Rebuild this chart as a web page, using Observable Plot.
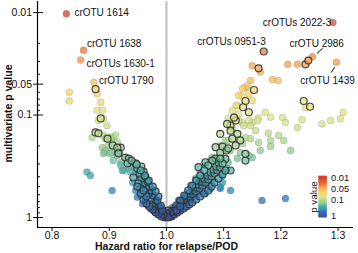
<!DOCTYPE html>
<html>
<head>
<meta charset="utf-8">
<script src="https://cdn.jsdelivr.net/npm/d3@7"></script>
<script src="https://cdn.jsdelivr.net/npm/@observablehq/plot@0.6"></script>
<style>
  html, body { margin: 0; padding: 0; background: #fff; }
  #wrap { position: relative; width: 358px; height: 253px; }
  #main svg, #cbar svg { display: block; }
  #cbar { position: absolute; left: 307px; top: 174px; }
</style>
</head>
<body>
<div id="wrap"><div id="main"></div><div id="cbar"></div></div>
<script>
// ---- data: [hazard ratio, multivariate p value] ----
const plainPoints = [
  [0.825,0.0103],[0.855,0.0233],[0.850,0.029],[0.873,0.048],
  [1.291,0.0125],[1.212,0.032],[1.229,0.032],[1.255,0.027],[1.297,0.0305],
  [1.150,0.033],[1.164,0.038],[1.147,0.046],[1.185,0.045],[1.195,0.046],
  [1.138,0.054],[1.144,0.062],[1.131,0.065],[1.150,0.072],[1.126,0.098],
  [1.132,0.118],[1.150,0.118],[1.161,0.107],[1.173,0.094],[1.141,0.052],[1.124,0.081],[1.144,0.113],
  [1.243,0.085],[1.237,0.111],[1.309,0.094],[1.304,0.109],[1.287,0.113],[1.272,0.122],[1.203,0.106],
  [1.208,0.118],[1.182,0.105],[1.159,0.113],[1.229,0.132],[1.196,0.158],[1.178,0.151],[1.205,0.177],
  [1.182,0.177],[1.182,0.203],[1.217,0.222],[1.164,0.222],[1.150,0.26],[1.129,0.232],[1.133,0.19],
  [1.108,0.29],[1.138,0.166],[1.144,0.248],[1.124,0.266],[1.112,0.222],[1.086,0.29],[1.091,0.333],
  [1.080,0.258],[1.103,0.177],
  [1.112,0.545],[1.094,0.521],[1.098,0.456],[1.167,0.683],[1.208,0.653],
  [1.059,0.566],[1.077,0.525],[1.094,0.506],[1.042,0.657],[1.024,0.764],[1.012,0.855],[1.035,0.746],
  [1.068,0.583],[1.051,0.624],
  [1.068,0.311],[1.077,0.278],[1.059,0.364],[1.051,0.417],[1.042,0.488],[1.086,0.348],[1.098,0.389],
  [1.105,0.333],[1.080,0.436],[1.068,0.488],[1.059,0.436],[1.033,0.61],[1.021,0.683],[1.010,0.799],
  [1.094,0.198],[1.108,0.177],[1.115,0.135],[1.126,0.113],[1.135,0.127],[1.147,0.127],[1.156,0.142],
  [1.147,0.17],[1.161,0.185],[1.126,0.0645],[1.122,0.0807],[1.115,0.0904],[1.108,0.108],[1.133,0.0551],
  [0.830,0.060],[0.830,0.073],[0.879,0.062],[0.885,0.075],[0.879,0.090],[0.888,0.090],[0.890,0.108],
  [0.881,0.113],[0.896,0.127],[0.890,0.158],[0.905,0.166],[0.888,0.208],[0.893,0.232],[0.870,0.166],
  [0.899,0.198],[0.893,0.222],[0.905,0.232],[0.907,0.278],[0.920,0.29],[0.914,0.248],[0.902,0.237],
  [0.890,0.237],[0.920,0.311],[0.925,0.348],[0.937,0.36],[0.941,0.456],[0.934,0.325],[0.946,0.325],
  [0.923,0.348],[0.941,0.29],[0.907,0.166],[0.911,0.157],[0.914,0.184],[0.893,0.17],[0.902,0.165],
  [0.861,0.36],[0.867,0.39],[0.905,0.545],
  [0.949,0.633],[0.958,0.735],[0.967,0.764],[0.972,0.82],[0.978,0.855],[0.963,0.683],[0.955,0.61],
  [0.946,0.545],[0.984,0.894],[0.990,0.935],
  [0.955,0.417],[0.963,0.488],[0.946,0.364],[0.972,0.57],[0.937,0.311],[0.981,0.683],[0.986,0.799]
];
const ringedPoints = [
  [0.876,0.056],[1.170,0.024],[1.243,0.032],[1.248,0.0294],[1.161,0.035],
  [1.240,0.073],[1.251,0.083],[1.138,0.073],[1.134,0.084],[1.144,0.094],[1.121,0.113],[1.112,0.127],[1.153,0.057],
  [1.118,0.106],[1.106,0.122],[1.124,0.153],[1.112,0.142],[1.094,0.153],[1.115,0.170],[1.086,0.206],
  [1.094,0.232],[1.103,0.268],[1.138,0.278],[1.138,0.239],[1.112,0.348],[1.129,0.177],
  [1.056,0.323],[1.068,0.289],
  [1.005,0.935],[1.010,0.874],[1.016,0.817],[1.021,0.764],[1.026,0.781],[1.024,0.714],[1.031,0.730],
  [1.030,0.667],[1.037,0.683],[1.035,0.624],[1.042,0.638],[1.040,0.583],[1.047,0.596],[1.045,0.545],
  [1.052,0.557],[1.051,0.510],[1.058,0.521],[1.056,0.477],[1.063,0.488],[1.061,0.446],[1.068,0.456],
  [1.066,0.417],[1.073,0.426],[1.072,0.389],[1.079,0.398],[1.077,0.364],[1.084,0.372],[1.082,0.340],
  [1.089,0.348],[1.087,0.318],[1.094,0.325],[1.091,0.291],[1.098,0.297],[1.086,0.266],[1.094,0.266],
  [1.098,0.203],[1.105,0.222],[1.121,0.198],[1.108,0.212],
  [1.080,0.278],[1.073,0.311],[1.066,0.348],[1.059,0.389],[1.052,0.436],[1.045,0.488],[1.038,0.545],
  [1.031,0.610],[1.024,0.683],[1.017,0.764],[1.010,0.855],[1.003,0.935],[1.007,0.978],[1.014,0.894],[1.021,0.836],
  [1.009,0.978],[1.014,0.935],[1.019,0.894],[1.024,0.855],[1.030,0.817],[1.035,0.781],[1.040,0.746],
  [1.045,0.714],[1.052,0.667],[1.059,0.624],[1.066,0.583],[1.073,0.545],[1.079,0.499],[1.084,0.456],
  [1.091,0.417],[1.098,0.380],[1.103,0.348],[1.017,0.855],[1.024,0.781],[1.007,0.894],[1.002,0.855],
  [1.000,0.978],[0.995,0.956],[1.000,0.914],[0.997,1.0],[1.003,1.0],
  [0.995,0.935],[0.990,0.894],[0.984,0.836],[0.981,0.781],[0.986,0.764],[0.976,0.730],[0.981,0.683],
  [0.972,0.653],[0.977,0.610],[0.969,0.583],[0.974,0.545],[0.963,0.521],[0.970,0.499],[0.960,0.466],
  [0.967,0.446],[0.956,0.417],[0.963,0.398],[0.953,0.372],[0.960,0.356],[0.949,0.333],[0.956,0.318],
  [0.946,0.297],[0.942,0.407],[0.951,0.466],[0.955,0.521],[0.928,0.260],[0.934,0.266],[0.932,0.297],
  [0.939,0.278],[0.920,0.208],[0.906,0.198],[0.916,0.232],[0.914,0.208],[0.916,0.237],[0.897,0.170],
  [0.876,0.148],[0.881,0.151],[0.885,0.108],[0.990,0.817],[0.979,0.855],
  [0.991,0.978],[0.986,0.935],[0.981,0.894],[0.976,0.836],[0.970,0.781],[0.965,0.730],[0.960,0.667],
  [0.965,0.624],[0.955,0.583],[0.960,0.545],[0.949,0.499],[0.993,0.855],[0.990,0.764],[0.984,0.683],
  [0.986,0.624],[0.981,0.557],[0.976,0.499],[0.969,0.436],[0.962,0.389],[0.955,0.348],[0.948,0.304]
];

// annotations (text anchor position in data units)
const labelText   = ["crOTU 1614","crOTU 1638","crOTUs 1630-1","crOTU 1790","crOTUs 0951-3","crOTU 2986","crOTU 1439"];
const labelHR     = [0.839, 0.861, 0.860, 0.882, 1.054, 1.215, 1.234];
const labelP      = [0.0100, 0.0201, 0.0313, 0.0461, 0.0192, 0.0201, 0.0461];
const endLabelText = ["crOTUs 2022-3"];
const endLabelHR   = [1.288];
const endLabelP    = [0.0125];
const leaders = [
  [1.263, 0.0251, 1.273, 0.0223],
  [1.288, 0.0385, 1.294, 0.0342]
];

// axes
const xDomain = [0.7745, 1.327];
const yDomain = [1.252, 0.0078];
const xTicks = [0.8, 0.9, 1.0, 1.1, 1.2, 1.3];
const yTicks = [0.01, 0.05, 0.1, 1];
const yMinorTicks = [0.02,0.03,0.04,0.06,0.07,0.08,0.09,0.2,0.3,0.4,0.5,0.6,0.7,0.8,0.9];

// colour scale for p value
const colorDomain = [0.01, 0.023, 0.032, 0.046, 0.06, 0.1, 0.15, 0.2, 0.3, 0.4, 0.55, 0.7, 1];
const colorRange  = ["#d63b2e","#e9743a","#f2a04c","#f6bd5e","#f3d56a","#dfe386","#bcdb8d","#9dcf8d",
                     "#62b9a0","#3fa0ad","#2b85b8","#3170b2","#3c4e9e"];

const colorOpts = {type: "log", domain: colorDomain, range: colorRange, clamp: true};
const font = "'Liberation Sans', Arial, Helvetica, sans-serif";

const main = Plot.plot({
  width: 358, height: 253,
  marginLeft: 37, marginRight: 5, marginTop: 1, marginBottom: 26,
  style: {fontFamily: font, fontSize: "10.5px", color: "#111", background: "#fff"},
  x: {domain: xDomain},
  y: {type: "log", domain: yDomain},
  color: colorOpts,
  marks: [
    Plot.ruleX([1], {stroke: "#bdbdbd", strokeWidth: 2}),
    Plot.dot(plainPoints, {x: d => d[0], y: d => d[1], r: 3.5, fill: d => d[1], fillOpacity: 0.75,
      stroke: "#333", strokeOpacity: 0.18, strokeWidth: 0.8}),
    Plot.dot(ringedPoints, {x: d => d[0], y: d => d[1], r: 3.5, fill: d => d[1], fillOpacity: 0.7,
      stroke: "#333", strokeOpacity: 0.9, strokeWidth: 1.2}),
    Plot.ruleX([xDomain[0]], {stroke: "#000", strokeWidth: 1.2}),
    Plot.ruleY([yDomain[0]], {stroke: "#000", strokeWidth: 1.2}),
    Plot.axisX({ticks: xTicks, tickFormat: ".1f", tickSize: 4, tickPadding: 0, label: null}),
    Plot.axisY({ticks: yTicks, tickSize: 4, text: null, label: null}),
    Plot.axisY({ticks: yTicks, tickSize: -6, text: null, label: null}),
    Plot.axisY({ticks: yMinorTicks, tickSize: -3, text: null, label: null}),
    Plot.text(yTicks, {y: d => d, text: d => String(d), frameAnchor: "left", textAnchor: "end",
      lineAnchor: "middle", dx: -5.5, fontSize: 10.5, fill: "#111"}),
    Plot.link(leaders, {x1: d => d[0], y1: d => d[1], x2: d => d[2], y2: d => d[3], stroke: "#000", strokeWidth: 1}),
    Plot.text(labelText, {x: (d, i) => labelHR[i], y: (d, i) => labelP[i], text: d => d,
      textAnchor: "start", fontSize: 10, fill: "#111"}),
    Plot.text(endLabelText, {x: (d, i) => endLabelHR[i], y: (d, i) => endLabelP[i], text: d => d,
      textAnchor: "end", fontSize: 10, fill: "#111"}),
    Plot.text(["Hazard ratio for relapse/POD"], {frameAnchor: "bottom", textAnchor: "middle", lineAnchor: "middle",
      dx: -29, dy: 19.5, fontWeight: "bold", fontSize: 10.5, fill: "#111"}),
    Plot.text(["multivariate p value"], {frameAnchor: "left", textAnchor: "middle", lineAnchor: "middle",
      rotate: -90, dx: -29, dy: -1, fontWeight: "bold", fontSize: 10.5, fill: "#111"})
  ]
});
document.getElementById("main").appendChild(main);

// colour bar legend (same scale, drawn as a vertical ramp)
const lo = Math.log10(yDomain[1]), hi = Math.log10(yDomain[0]), nSeg = 48;
const ramp = d3.range(nSeg).map(i => [10 ** (lo + (hi - lo) * i / nSeg), 10 ** (lo + (hi - lo) * (i + 1) / nSeg)]);
const cbText = {text: d => String(d), frameAnchor: "right", textAnchor: "start", lineAnchor: "middle",
  dx: 4, fontSize: 9.5, fill: "#111"};
const cbar = Plot.plot({
  width: 52, height: 46,
  marginLeft: 12, marginRight: 32, marginTop: 2, marginBottom: 2,
  style: {fontFamily: font, fontSize: "10px", color: "#111", background: "transparent", overflow: "visible"},
  y: {type: "log", domain: yDomain, axis: null},
  color: colorOpts,
  marks: [
    Plot.rect(ramp, {y1: d => d[0], y2: d => d[1], fill: d => Math.sqrt(d[0] * d[1]),
      stroke: d => Math.sqrt(d[0] * d[1]), strokeWidth: 0.6}),
    Plot.text(yTicks, {y: d => d, filter: d => d !== 0.05 && d !== 0.1, ...cbText}),
    Plot.text(yTicks, {y: d => d, filter: d => d === 0.05, ...cbText, dy: -3}),
    Plot.text(yTicks, {y: d => d, filter: d => d === 0.1, ...cbText, dy: 2.5}),
    Plot.text(["p value"], {frameAnchor: "left", textAnchor: "middle", lineAnchor: "middle", rotate: -90, dx: -6,
      fontSize: 10, fill: "#111"})
  ]
});
document.getElementById("cbar").appendChild(cbar);
</script>
</body>
</html>
